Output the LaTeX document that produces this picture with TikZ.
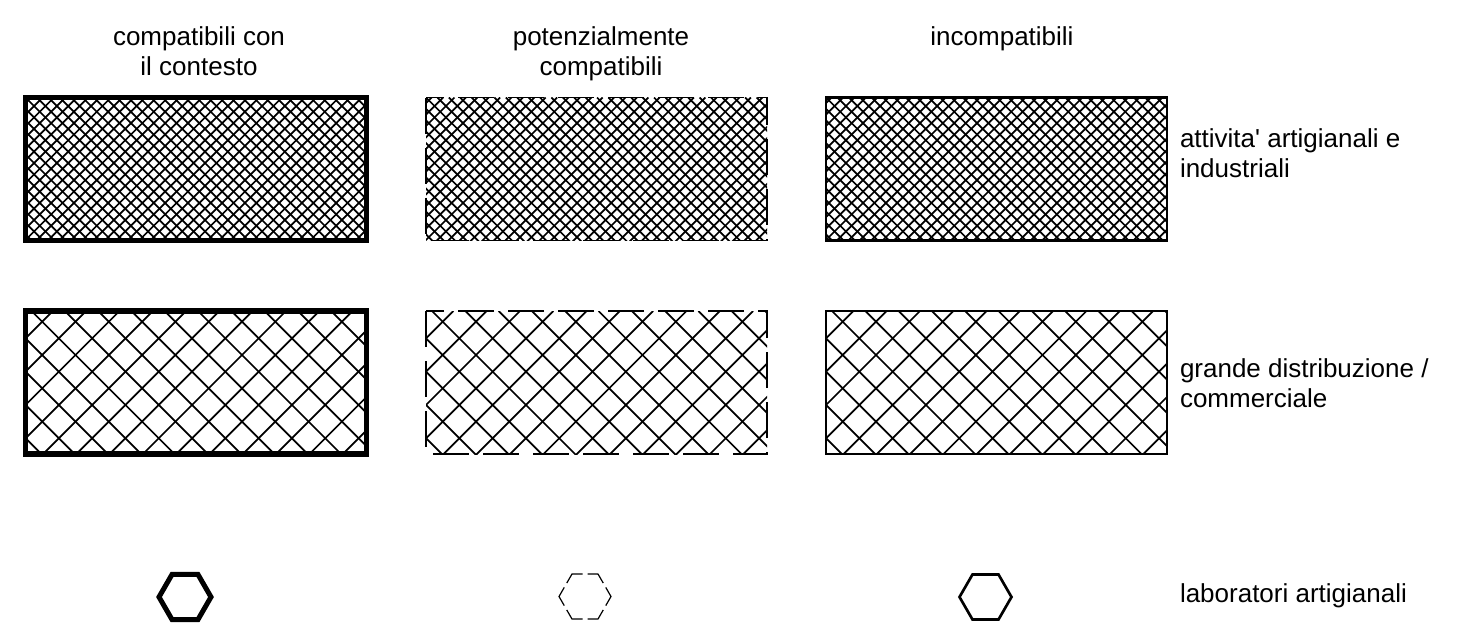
\documentclass[tikz,border=0pt]{standalone}
\usepackage{fontspec}
\setmainfont{Liberation Sans}
\usetikzlibrary{shapes.geometric}
\tikzset{
  lbl/.style={font=\fontsize{19.5pt}{22.5pt}\selectfont, inner sep=0pt, outer sep=0pt},
  hdr/.style={lbl, align=center, anchor=base},
  sidelbl/.style={lbl, align=left, anchor=base west},
  box/.style={rectangle, inner sep=0pt, outer sep=0pt, anchor=north west,
    minimum width=255.75pt, minimum height=107.25pt},
  thickbox/.style={draw, line width=4pt},
  dashbox/.style={draw, line width=1.4pt, dash pattern=on 27pt off 10.5pt},
  midbox/.style={draw, line width=2.2pt},
  hatchline/.style={line width=1.3pt},
  hexa/.style={regular polygon, regular polygon sides=6, minimum size=39pt,
    inner sep=0pt, outer sep=0pt},
}
\newcommand\hatchin[4]{%
  \begin{scope}
    \clip (#1.north west) rectangle (#1.south east);
    \path (#1.north west) coordinate (hnw);
    \foreach \k in {-16,...,46}{
      \draw[hatchline, shift={(hnw)}] (#3+\k*#2, 0) -- ++(170,170);
      \draw[hatchline, shift={(hnw)}] (#4+\k*#2, 0) -- ++(-170,170);
    }
  \end{scope}}
\begin{document}
\begin{tikzpicture}[x=0.75pt, y=-0.75pt]
\useasboundingbox (0,0) rectangle (1461,637);

% headers (base anchor = baseline of last line)
\node[hdr] (h1) at (199,75.5) {compatibili con\\il contesto};
\node[hdr] (h2) at (601,75.5) {potenzialmente\\compatibili};
\node[hdr] (h3) at (1002,45.5) {incompatibili};

% boxes row 1
\node[box] (a1) at (25.5,97.5) {};
\node[box] (a2) at (426,97.5) {};
\node[box] (a3) at (826,97.5) {};
% boxes row 2
\node[box] (b1) at (25.5,311) {};
\node[box] (b2) at (426,311) {};
\node[box] (b3) at (826,311) {};

\hatchin{a1}{11.4}{0}{5.7}
\hatchin{a2}{11.4}{0}{5.7}
\hatchin{a3}{11.4}{0}{5.7}
\hatchin{b1}{33.3}{6}{27.4}
\hatchin{b2}{33.3}{6}{27.4}
\hatchin{b3}{33.3}{6}{27.4}

\draw[thickbox] (a1.north west) rectangle (a1.south east);
\draw[dashbox] (a2.north west) rectangle (a2.south east);
\draw[midbox] (a3.north west) rectangle (a3.south east);
\draw[thickbox] (b1.north west) rectangle (b1.south east);
\draw[dashbox] (b2.north west) rectangle (b2.south east);
\draw[midbox] (b3.north west) rectangle (b3.south east);

% hexagons
\node[hexa, draw, line width=3.75pt] (x1) at (185,597) {};
\node[hexa] (x2) at (585,596.5) {};
\draw[line width=0.9pt, dash pattern=on 15.75pt off 3.75pt, dash phase=7.875pt]
  (x2.corner 1) -- (x2.corner 2) -- (x2.corner 3) -- (x2.corner 4) -- (x2.corner 5) -- (x2.corner 6) -- cycle;
\node[hexa, draw, line width=2pt] (x3) at (985.5,597) {};

% side labels
\node[sidelbl] (s1) at (1180,177) {attivita\textquotesingle{} artigianali e\\industriali};
\node[sidelbl] (s2) at (1180,407) {grande distribuzione /\\commerciale};
\node[sidelbl] (s3) at (1180,602) {laboratori artigianali};
\end{tikzpicture}
\end{document}
